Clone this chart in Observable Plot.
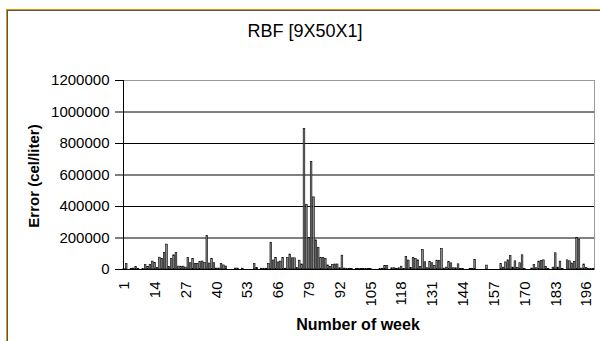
<!DOCTYPE html>
<html>
<head>
<meta charset="utf-8">
<script src="https://cdn.jsdelivr.net/npm/d3@7"></script>
<script src="https://cdn.jsdelivr.net/npm/@observablehq/plot@0.6"></script>
<style>
  html, body { margin: 0; padding: 0; background: #fff; }
  #wrap { position: relative; width: 600px; height: 341px; overflow: hidden; background: #fff; font-family: "Liberation Sans", Arial, sans-serif; }
  #frame { position: absolute; left: 6px; top: 9px; width: 700px; height: 400px; border-left: 1px solid #d49b00; border-top: 1px solid #d49b00; }
  #frame > div { width: 100%; height: 100%; border-left: 1px solid #555; border-top: 1px solid #555; }
  #chart { position: absolute; left: 0; top: 0; }
  .t { position: absolute; color: #000; white-space: nowrap; }
  #title { left: 305px; top: 31px; transform: translate(-50%, -50%); font-size: 18px; }
  #ylab { left: 33px; top: 176px; transform: translate(-50%, -50%) rotate(-90deg); font-size: 15px; font-weight: bold; }
  #xlab { left: 358px; top: 325px; transform: translate(-50%, -50%); font-size: 16px; font-weight: bold; }
</style>
</head>
<body>
<div id="wrap">
  <div id="frame"><div></div></div>
  <div id="chart"></div>
  <div class="t" id="title">RBF [9X50X1]</div>
  <div class="t" id="ylab">Error (cel/liter)</div>
  <div class="t" id="xlab">Number of week</div>
</div>
<script>
const errors = [
  3000, 35000, 0, 2000, 6000, 15000, 2000, 0, 3000, 28000,
  15000, 28000, 50000, 42000, 10000, 75000, 68000, 105000, 158000, 17000,
  68000, 90000, 105000, 18000, 18000, 18000, 12000, 74000, 40000, 66000,
  35000, 36000, 48000, 51000, 42000, 212000, 38000, 68000, 40000, 6000,
  6000, 34000, 26000, 19000, 0, 0, 0, 6000, 6000, 0,
  5000, 0, 0, 0, 0, 35000, 10000, 0, 5000, 5000,
  5000, 36000, 170000, 57000, 72000, 45000, 50000, 73000, 5000, 73000,
  95000, 71000, 71000, 10000, 56000, 32000, 893000, 411000, 200000, 684000,
  458000, 185000, 138000, 72000, 72000, 66000, 26000, 17000, 28000, 32000,
  32000, 8000, 88000, 6000, 4000, 4000, 3000, 0, 4000, 4000,
  4000, 4000, 4000, 4000, 4000, 0, 0, 0, 4000, 5000,
  22000, 22000, 0, 8000, 8000, 3000, 8000, 18000, 4000, 80000,
  57000, 10000, 73000, 66000, 58000, 15000, 123000, 46000, 8000, 48000,
  40000, 22000, 56000, 55000, 131000, 6000, 12000, 48000, 39000, 8000,
  8000, 33000, 4000, 4000, 0, 0, 4000, 4000, 60000, 0,
  0, 0, 0, 25000, 0, 0, 0, 0, 0, 36000,
  12000, 45000, 58000, 85000, 12000, 52000, 10000, 40000, 90000, 4000,
  0, 0, 6000, 28000, 8000, 50000, 54000, 58000, 15000, 4000,
  0, 12000, 103000, 12000, 50000, 4000, 0, 58000, 52000, 38000,
  48000, 201000, 190000, 6000, 32000, 10000, 5000, 3000, 3000
];
const weeks = errors.map((_, i) => i + 1);
const xTicks = [1, 14, 27, 40, 53, 66, 79, 92, 105, 118, 131, 144, 157, 170, 183, 196];
const yTicks = [0, 200000, 400000, 600000, 800000, 1000000, 1200000];
const gridTicks = [200000, 400000, 600000, 800000, 1000000];

const data = weeks.map((w, i) => ({week: w, error: errors[i]}));

const chart = Plot.plot({
  width: 600,
  height: 341,
  marginLeft: 123,
  marginRight: 6,
  marginTop: 80,
  marginBottom: 72,
  style: {fontFamily: "'Liberation Sans', Arial, sans-serif", background: "transparent", color: "#000"},
  x: {type: "band", domain: weeks, paddingInner: 0.3, paddingOuter: 0, axis: null},
  y: {domain: [0, 1200000], axis: null},
  marks: [
    Plot.frame({stroke: "#999"}),
    Plot.gridY(gridTicks, {stroke: "#000", strokeOpacity: 1, strokeWidth: 1}),
    Plot.barY(data, {x: "week", y: "error", fill: "#8a8a8a", stroke: "#000", strokeWidth: 0.6}),
    Plot.ruleY([0], {stroke: "#000"}),
    Plot.frame({anchor: "left", stroke: "#000"}),
    Plot.axisY(yTicks, {tickFormat: d3.format("d"), tickSize: 8, tickPadding: 6, fontSize: 15, label: null, stroke: "#000"}),
    Plot.axisX(xTicks, {tickRotate: -90, tickSize: 0, tickPadding: 12, fontSize: 15, label: null})
  ]
});
document.getElementById("chart").appendChild(chart);
</script>
</body>
</html>
